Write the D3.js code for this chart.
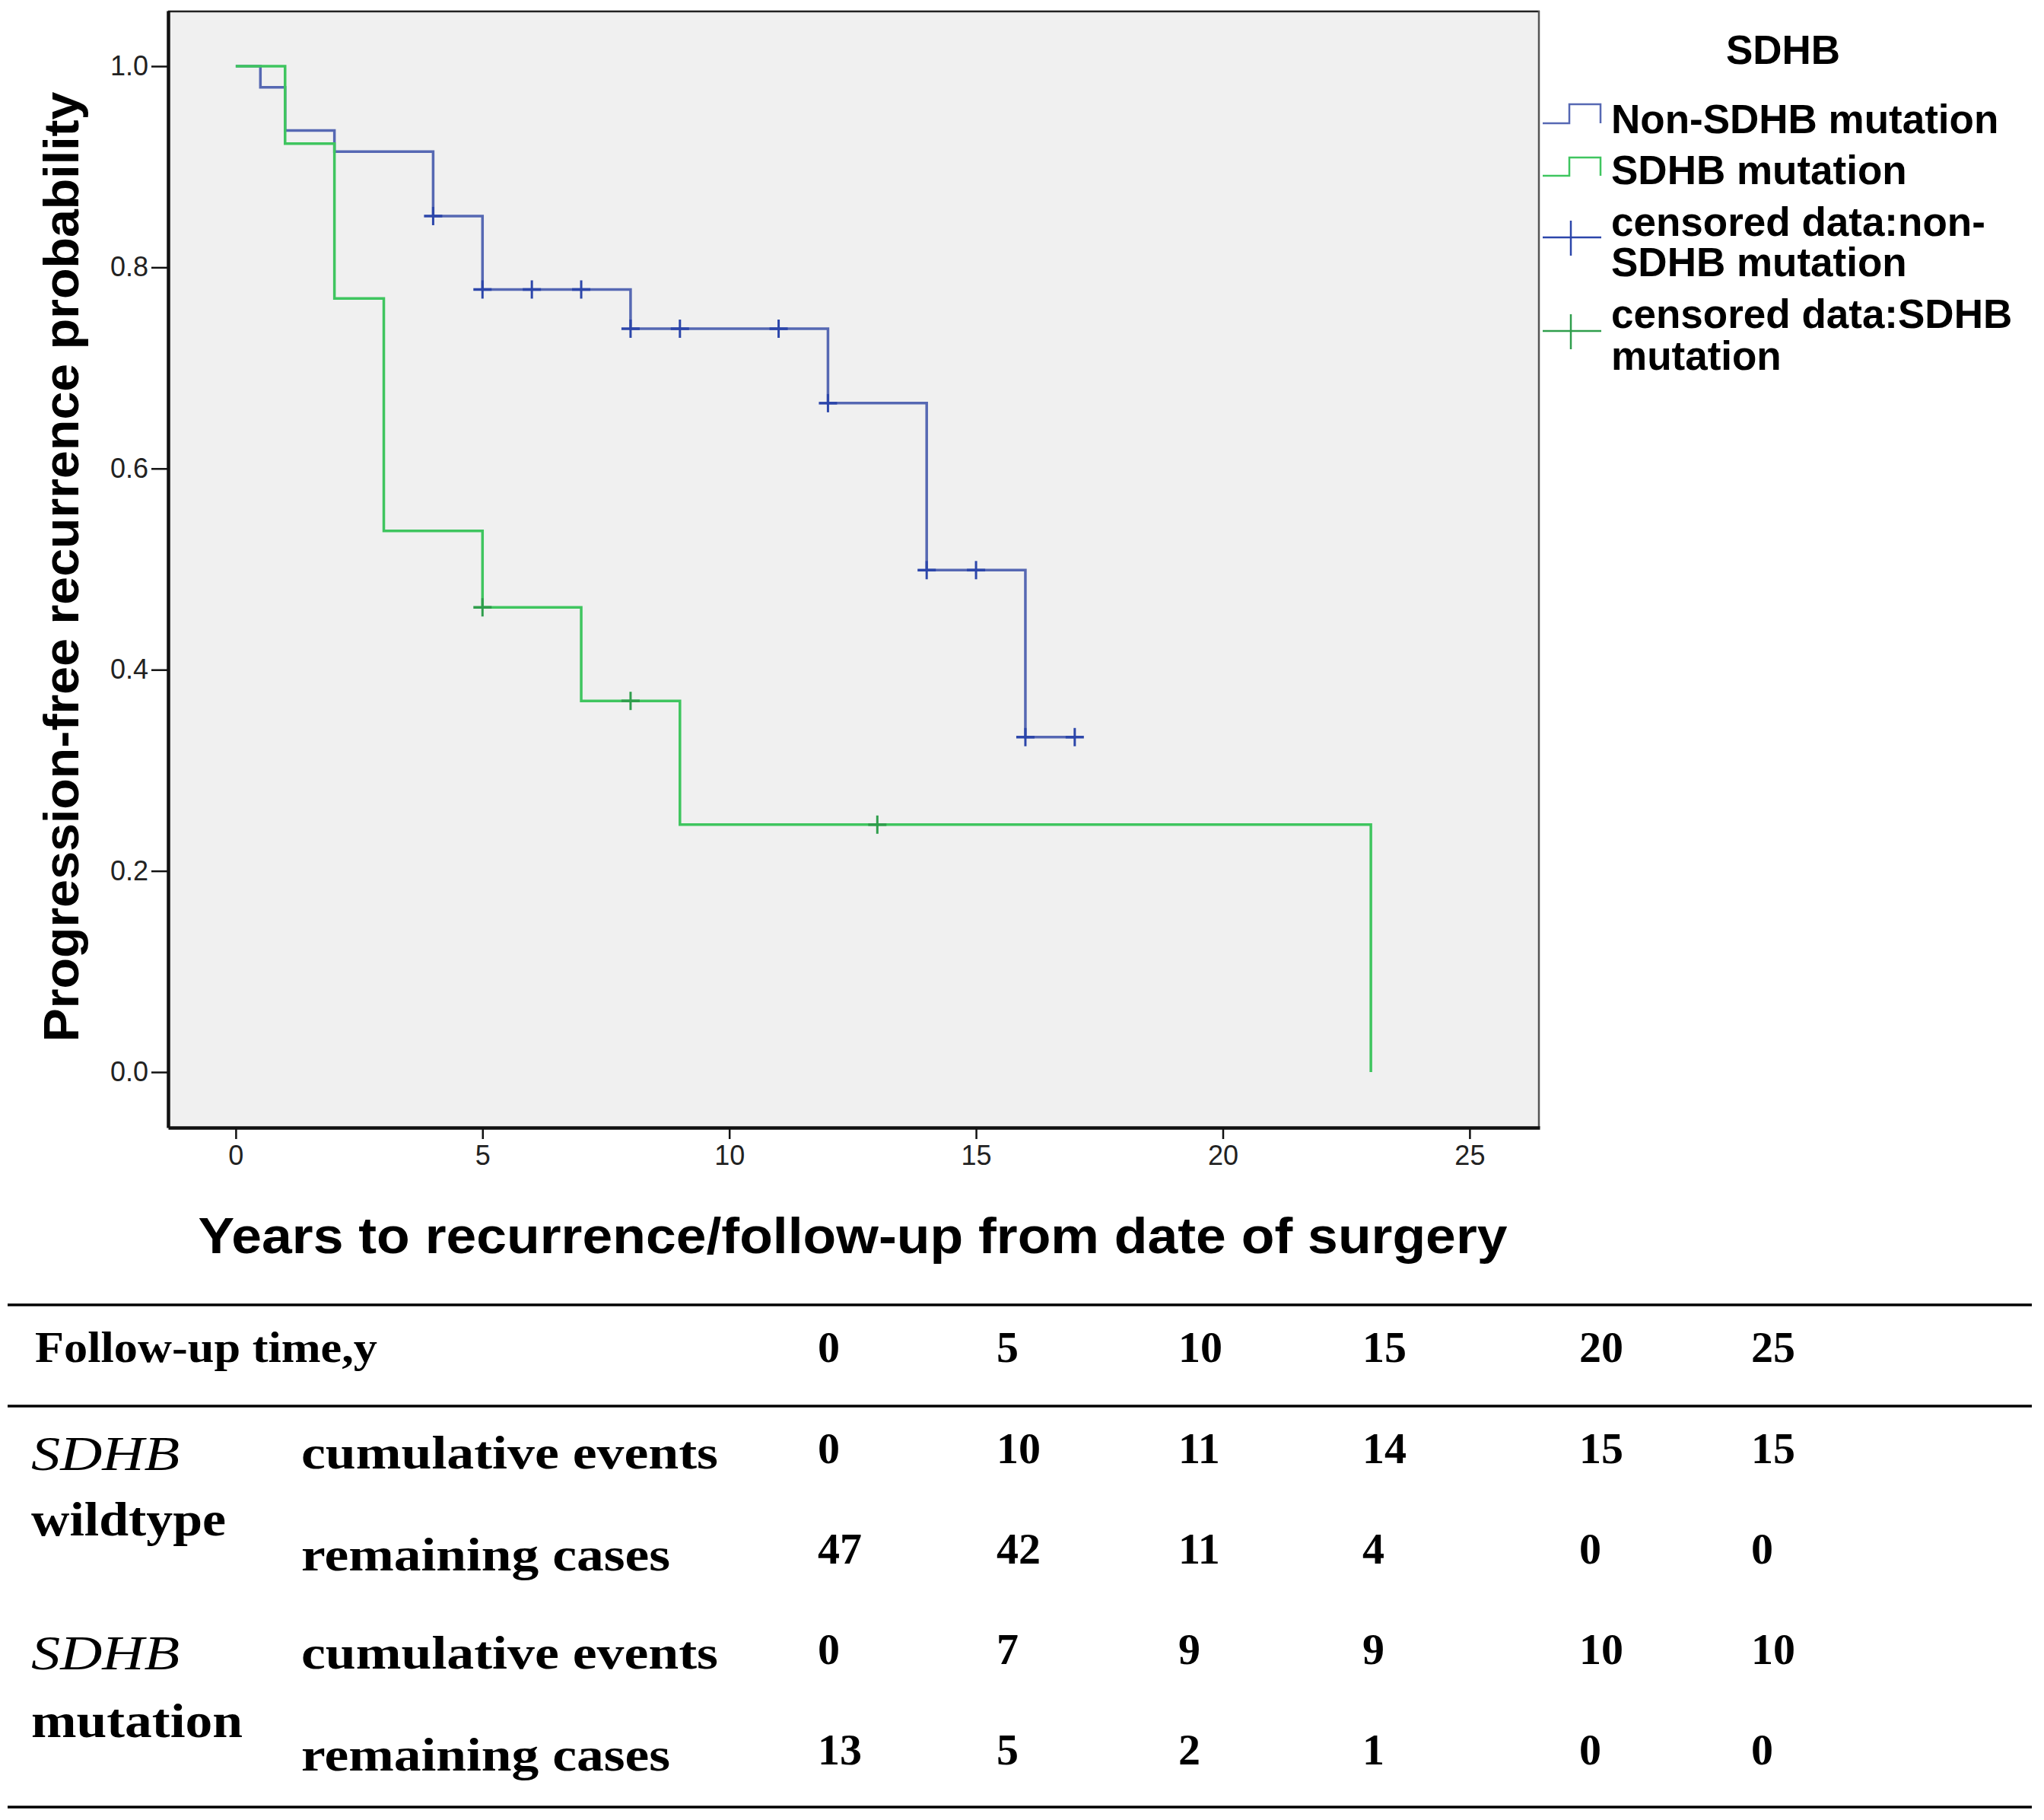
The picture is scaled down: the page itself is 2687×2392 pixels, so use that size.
<!DOCTYPE html>
<html>
<head>
<meta charset="utf-8">
<script src="https://cdn.jsdelivr.net/npm/d3@7"></script>
<style>
  html, body { margin: 0; padding: 0; background: #fff; }
  svg { display: block; }
</style>
</head>
<body>
<div id="chart"></div>
<script>
// Kaplan-Meier steps
const nonSdhbTimes = [0, 0.5, 1, 2, 4, 5, 8, 12, 14, 16, 17]
const nonSdhbSurv = [1.0, 0.979, 0.936, 0.915, 0.851, 0.778, 0.739, 0.665, 0.499, 0.333, 0.333]
const nonSdhbCensored = [4, 5, 6, 7, 8, 9, 11, 12, 14, 15, 16, 17]

const sdhbTimes = [0, 1, 2, 3, 5, 7, 9, 23]
const sdhbSurv = [1.0, 0.923, 0.769, 0.538, 0.462, 0.369, 0.246, 0.0]
const sdhbCensored = [5, 8, 13]

const xTicks = [0, 5, 10, 15, 20, 25]
const yTicks = [0, 0.2, 0.4, 0.6, 0.8, 1.0]

const legendItems = ['Non-SDHB mutation', 'SDHB mutation', 'censored data:non-|SDHB mutation', 'censored data:SDHB|mutation']

// risk table
const tableTimes = ['0', '5', '10', '15', '20', '25']
const wildEvents = [0, 10, 11, 14, 15, 15]
const wildRemaining = [47, 42, 11, 4, 0, 0]
const mutEvents = [0, 7, 9, 9, 10, 10]
const mutRemaining = [13, 5, 2, 1, 0, 0]

const W = 2687, H = 2392
const blueLine = '#5668b3', blueMark = '#2c46aa'
const greenLine = '#3fc55f', greenMark = '#2f9e4c'

const svg = d3.select('#chart').append('svg')
  .attr('width', W).attr('height', H)
  .attr('viewBox', `0 0 ${W} ${H}`)

const plot = { left: 221, right: 2024, top: 14, bottom: 1482 }
const x = d3.scaleLinear().domain([-1.37, 26.42]).range([plot.left, plot.right])
const y = d3.scaleLinear().domain([-0.0552, 1.0552]).range([plot.bottom, plot.top])

// plot background + frame
svg.append('rect')
  .attr('x', plot.left).attr('y', plot.top)
  .attr('width', plot.right - plot.left).attr('height', plot.bottom - plot.top)
  .attr('fill', '#f0f0f0')
svg.append('line').attr('x1', plot.left).attr('x2', plot.right).attr('y1', plot.top + 1).attr('y2', plot.top + 1)
  .attr('stroke', '#222').attr('stroke-width', 2.5)
svg.append('line').attr('x1', plot.right - 1).attr('x2', plot.right - 1).attr('y1', plot.top).attr('y2', plot.bottom)
  .attr('stroke', '#555').attr('stroke-width', 2.5)

// axes
const xAxis = svg.append('g')
  .attr('transform', `translate(0,${plot.bottom})`)
  .call(d3.axisBottom(x).tickValues(xTicks).tickSize(15).tickSizeOuter(0).tickPadding(8))
xAxis.select('.domain').attr('stroke', '#111').attr('stroke-width', 4.5)
xAxis.selectAll('.tick line').attr('stroke', '#111').attr('stroke-width', 2.5)
xAxis.selectAll('.tick text')
  .attr('font-family', 'Liberation Sans, Arial, sans-serif')
  .attr('font-size', 36).attr('fill', '#222')

const yAxis = svg.append('g')
  .attr('transform', `translate(${plot.left},0)`)
  .call(d3.axisLeft(y).tickValues(yTicks).tickFormat(d3.format('.1f')).tickSize(22).tickSizeOuter(0).tickPadding(4))
yAxis.select('.domain').attr('stroke', '#111').attr('stroke-width', 4.5)
yAxis.selectAll('.tick line').attr('stroke', '#111').attr('stroke-width', 2.5)
yAxis.selectAll('.tick text')
  .attr('font-family', 'Liberation Sans, Arial, sans-serif')
  .attr('font-size', 36).attr('fill', '#222')

// curves
const line = d3.line()
  .x(d => x(d[0]))
  .y(d => y(d[1]))
  .curve(d3.curveStepAfter)

function survAt(times, surv, t) {
  const i = d3.bisectRight(times, t) - 1
  return surv[Math.max(0, i)]
}

function drawGroup(times, surv, censored, lc, mc) {
  svg.append('path')
    .datum(d3.zip(times, surv))
    .attr('fill', 'none')
    .attr('stroke', lc)
    .attr('stroke-width', 3.5)
    .attr('d', line)
  const g = svg.append('g')
  censored.forEach(t => {
    const cx = x(t), cy = y(survAt(times, surv, t))
    g.append('line').attr('x1', cx - 12).attr('x2', cx + 12).attr('y1', cy).attr('y2', cy)
      .attr('stroke', mc).attr('stroke-width', 3.5)
    g.append('line').attr('x1', cx).attr('x2', cx).attr('y1', cy - 12).attr('y2', cy + 12)
      .attr('stroke', mc).attr('stroke-width', 3)
  })
}

drawGroup(nonSdhbTimes, nonSdhbSurv, nonSdhbCensored, blueLine, blueMark)
drawGroup(sdhbTimes, sdhbSurv, sdhbCensored, greenLine, greenMark)

// axis titles
svg.append('text')
  .attr('x', 1121).attr('y', 1647)
  .attr('text-anchor', 'middle')
  .attr('font-family', 'Liberation Sans, Arial, sans-serif')
  .attr('font-weight', 'bold').attr('font-size', 67)
  .attr('textLength', 1721).attr('lengthAdjust', 'spacingAndGlyphs')
  .text('Years to recurrence/follow-up from date of surgery')

svg.append('text')
  .attr('transform', 'translate(103,745) rotate(-90)')
  .attr('text-anchor', 'middle')
  .attr('font-family', 'Liberation Sans, Arial, sans-serif')
  .attr('font-weight', 'bold').attr('font-size', 65)
  .attr('textLength', 1249).attr('lengthAdjust', 'spacingAndGlyphs')
  .text('Progression-free recurrence probability')

// legend
const leg = svg.append('g')
  .attr('font-family', 'Liberation Sans, Arial, sans-serif')
  .attr('font-weight', 'bold').attr('font-size', 53)
leg.append('text').attr('x', 2344).attr('y', 84).attr('text-anchor', 'middle').text('SDHB')

const legLines = [[175], [242], [310, 363], [431, 486]]
const legIcons = [
  { type: 'step', yLow: 162, yHigh: 137, color: blueLine },
  { type: 'step', yLow: 231, yHigh: 207, color: greenLine },
  { type: 'cross', yc: 312, color: blueMark },
  { type: 'cross', yc: 435, color: greenMark }
]
legendItems.forEach((label, i) => {
  const parts = label.split('|')
  parts.forEach((p, j) => {
    leg.append('text').attr('x', 2118).attr('y', legLines[i][j]).text(p)
  })
  const ic = legIcons[i]
  if (ic.type === 'step') {
    leg.append('path')
      .attr('d', `M2028,${ic.yLow}H2063V${ic.yHigh}H2104V${ic.yLow}`)
      .attr('fill', 'none').attr('stroke', ic.color).attr('stroke-width', 2.5)
  } else {
    leg.append('line').attr('x1', 2028).attr('x2', 2105).attr('y1', ic.yc).attr('y2', ic.yc)
      .attr('stroke', ic.color).attr('stroke-width', 2.5)
    leg.append('line').attr('x1', 2065).attr('x2', 2065).attr('y1', ic.yc - 22).attr('y2', ic.yc + 24)
      .attr('stroke', ic.color).attr('stroke-width', 2.5)
  }
})

// risk table
const tbl = svg.append('g')
  .attr('font-family', 'Liberation Serif, Times New Roman, serif')
  .attr('font-weight', 'bold').attr('font-size', 58).attr('fill', '#000')
;[1715, 1848, 2375].forEach(ly => {
  tbl.append('line').attr('x1', 10).attr('x2', 2671).attr('y1', ly).attr('y2', ly)
    .attr('stroke', '#000').attr('stroke-width', 3.5)
})
const colX = [1075, 1310, 1549, 1791, 2076, 2302]

tbl.append('text').attr('x', 46).attr('y', 1790)
  .attr('textLength', 450).attr('lengthAdjust', 'spacingAndGlyphs')
  .text('Follow-up time,y')
tableTimes.forEach((t, i) => tbl.append('text').attr('x', colX[i]).attr('y', 1790).text(t))

const rows = [
  { label: 'cumulative events', y: 1930, ny: 1923, vals: wildEvents, len: 548 },
  { label: 'remaining cases', y: 2064, ny: 2055, vals: wildRemaining, len: 485 },
  { label: 'cumulative events', y: 2193, ny: 2187, vals: mutEvents, len: 548 },
  { label: 'remaining cases', y: 2327, ny: 2319, vals: mutRemaining, len: 485 }
]
rows.forEach(r => {
  tbl.append('text').attr('x', 396).attr('y', r.y)
    .attr('font-size', 62)
    .attr('textLength', r.len).attr('lengthAdjust', 'spacingAndGlyphs')
    .text(r.label)
  r.vals.forEach((v, i) => tbl.append('text').attr('x', colX[i]).attr('y', r.ny).text(v))
})

const groups = [
  { a: 'SDHB', b: 'wildtype', ya: 1932, yb: 2018, lb: 256 },
  { a: 'SDHB', b: 'mutation', ya: 2194, yb: 2283, lb: 278 }
]
groups.forEach(g => {
  tbl.append('text').attr('x', 41).attr('y', g.ya)
    .attr('font-style', 'italic').attr('font-weight', 'normal').attr('font-size', 64)
    .attr('textLength', 195).attr('lengthAdjust', 'spacingAndGlyphs')
    .text(g.a)
  tbl.append('text').attr('x', 41).attr('y', g.yb)
    .attr('font-size', 64)
    .attr('textLength', g.lb).attr('lengthAdjust', 'spacingAndGlyphs')
    .text(g.b)
})
</script>
</body>
</html>
